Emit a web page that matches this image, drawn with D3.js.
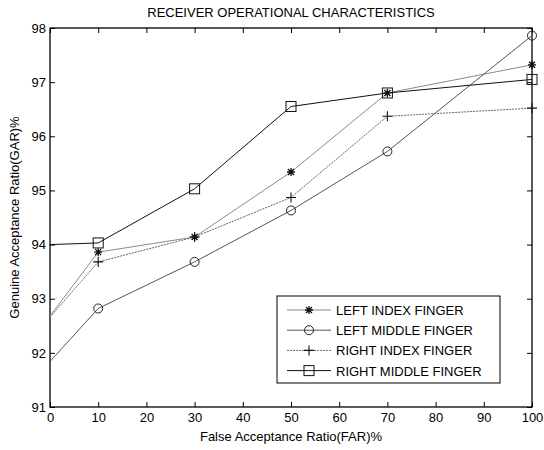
<!DOCTYPE html>
<html>
<head>
<meta charset="utf-8">
<script src="https://cdn.jsdelivr.net/npm/d3@7"></script>
<style>
  body { margin: 0; background: #fff; }
  svg { display: block; font-family: "Liberation Sans", Arial, sans-serif; }
</style>
</head>
<body>
<svg id="chart" width="544" height="450"></svg>
<script>
const far = [0, 10, 30, 50, 70, 100];
const left_index = [92.68, 93.86, 94.14, 95.34, 96.80, 97.32];
const left_middle = [91.84, 92.82, 93.68, 94.63, 95.72, 97.86];
const right_index = [92.66, 93.68, 94.14, 94.87, 96.37, 96.52];
const right_middle = [94.0, 94.03, 95.03, 96.55, 96.80, 97.05];
const series_names = ["LEFT INDEX FINGER", "LEFT MIDDLE FINGER", "RIGHT INDEX FINGER", "RIGHT MIDDLE FINGER"];
const x_ticks = [0, 10, 20, 30, 40, 50, 60, 70, 80, 90, 100];
const y_ticks = [91, 92, 93, 94, 95, 96, 97, 98];

const series = [
	{ name: series_names[0], values: left_index, marker: "star", color: "#8a8a8a", dash: null },
	{ name: series_names[1], values: left_middle, marker: "circle", color: "#555", dash: null },
	{ name: series_names[2], values: right_index, marker: "plus", color: "#666", dash: "2,1" },
	{ name: series_names[3], values: right_middle, marker: "square", color: "#111", dash: null },
];

const svg = d3.select("#chart");
const plot_l = 50, plot_r = 532, plot_t = 28, plot_b = 407;

const x = d3.scaleLinear().domain([0, 100]).range([plot_l, plot_r]);
const y = d3.scaleLinear().domain([91, 98]).range([plot_b, plot_t]);

// axes with inward ticks (matlab style box)
const tick_len = 5;
svg.append("g")
	.attr("transform", `translate(0,${plot_b})`)
	.call(d3.axisBottom(x).tickValues(x_ticks).tickFormat(d3.format("d")).tickSizeInner(-tick_len).tickSizeOuter(0).tickPadding(6));
svg.append("g")
	.attr("transform", `translate(0,${plot_t})`)
	.call(d3.axisTop(x).tickValues(x_ticks).tickSizeInner(-tick_len).tickSizeOuter(0).tickFormat(""));
svg.append("g")
	.attr("transform", `translate(${plot_l},0)`)
	.call(d3.axisLeft(y).tickValues(y_ticks).tickFormat(d3.format("d")).tickSizeInner(-tick_len).tickSizeOuter(0).tickPadding(4));
svg.append("g")
	.attr("transform", `translate(${plot_r},0)`)
	.call(d3.axisRight(y).tickValues(y_ticks).tickSizeInner(-tick_len).tickSizeOuter(0).tickFormat(""));

svg.selectAll(".domain").remove();
svg.selectAll(".tick line").attr("stroke", "#000");
svg.selectAll(".tick text")
	.attr("font-size", 13)
	.attr("font-family", "Liberation Sans, Arial, sans-serif")
	.attr("fill", "#000");

svg.append("rect")
	.attr("x", plot_l).attr("y", plot_t)
	.attr("width", plot_r - plot_l).attr("height", plot_b - plot_t)
	.attr("fill", "none").attr("stroke", "#000").attr("stroke-width", 1.3);

// markers
function draw_marker(g, type, cx, cy) {
	if (type === "star") {
		const s = 4;
		const p = `M${cx - s},${cy}H${cx + s}M${cx},${cy - s}V${cy + s}` +
			`M${cx - 3},${cy - 3}L${cx + 3},${cy + 3}M${cx - 3},${cy + 3}L${cx + 3},${cy - 3}`;
		g.append("path").attr("d", p).attr("stroke", "#111").attr("stroke-width", 1.3).attr("fill", "none");
	} else if (type === "circle") {
		g.append("circle").attr("cx", cx).attr("cy", cy).attr("r", 4.5)
			.attr("fill", "none").attr("stroke", "#222").attr("stroke-width", 1);
	} else if (type === "plus") {
		const s = 5;
		g.append("path").attr("d", `M${cx - s},${cy}H${cx + s}M${cx},${cy - s}V${cy + s}`)
			.attr("stroke", "#111").attr("stroke-width", 1.1).attr("fill", "none");
	} else if (type === "square") {
		const s = 5;
		g.append("rect").attr("x", cx - s).attr("y", cy - s).attr("width", 2 * s).attr("height", 2 * s)
			.attr("fill", "none").attr("stroke", "#111").attr("stroke-width", 1);
	}
}

const line = d3.line().x((d) => x(d[0])).y((d) => y(d[1]));

series.forEach((s) => {
	const pts = far.map((f, i) => [f, s.values[i]]);
	const g = svg.append("g");
	g.append("path")
		.attr("d", line(pts))
		.attr("fill", "none")
		.attr("stroke", s.color)
		.attr("stroke-width", 1)
		.attr("stroke-dasharray", s.dash);
	// no marker drawn at FAR = 0 in the original
	pts.filter((p) => p[0] > 0).forEach((p) => draw_marker(g, s.marker, x(p[0]), y(p[1])));
});

// legend
const lg = svg.append("g");
lg.append("rect")
	.attr("x", 277).attr("y", 296).attr("width", 223).attr("height", 87)
	.attr("fill", "#fff").attr("stroke", "#000").attr("stroke-width", 1);
series.forEach((s, i) => {
	const ly = 310 + i * 20.2;
	lg.append("line")
		.attr("x1", 287).attr("x2", 331).attr("y1", ly).attr("y2", ly)
		.attr("stroke", s.color).attr("stroke-width", 1).attr("stroke-dasharray", s.dash);
	draw_marker(lg, s.marker, 309, ly);
	lg.append("text")
		.attr("x", 336).attr("y", ly + 5)
		.attr("font-size", 13)
		.text(s.name);
});

// titles
svg.append("text")
	.attr("x", (plot_l + plot_r) / 2).attr("y", 17)
	.attr("text-anchor", "middle").attr("font-size", 13)
	.text("RECEIVER OPERATIONAL CHARACTERISTICS");
svg.append("text")
	.attr("x", (plot_l + plot_r) / 2).attr("y", 441)
	.attr("text-anchor", "middle").attr("font-size", 13)
	.text("False Acceptance Ratio(FAR)%");
svg.append("text")
	.attr("transform", `translate(19,${(plot_t + plot_b) / 2}) rotate(-90)`)
	.attr("text-anchor", "middle").attr("font-size", 13)
	.text("Genuine Acceptance Ratio(GAR)%");
</script>
</body>
</html>
